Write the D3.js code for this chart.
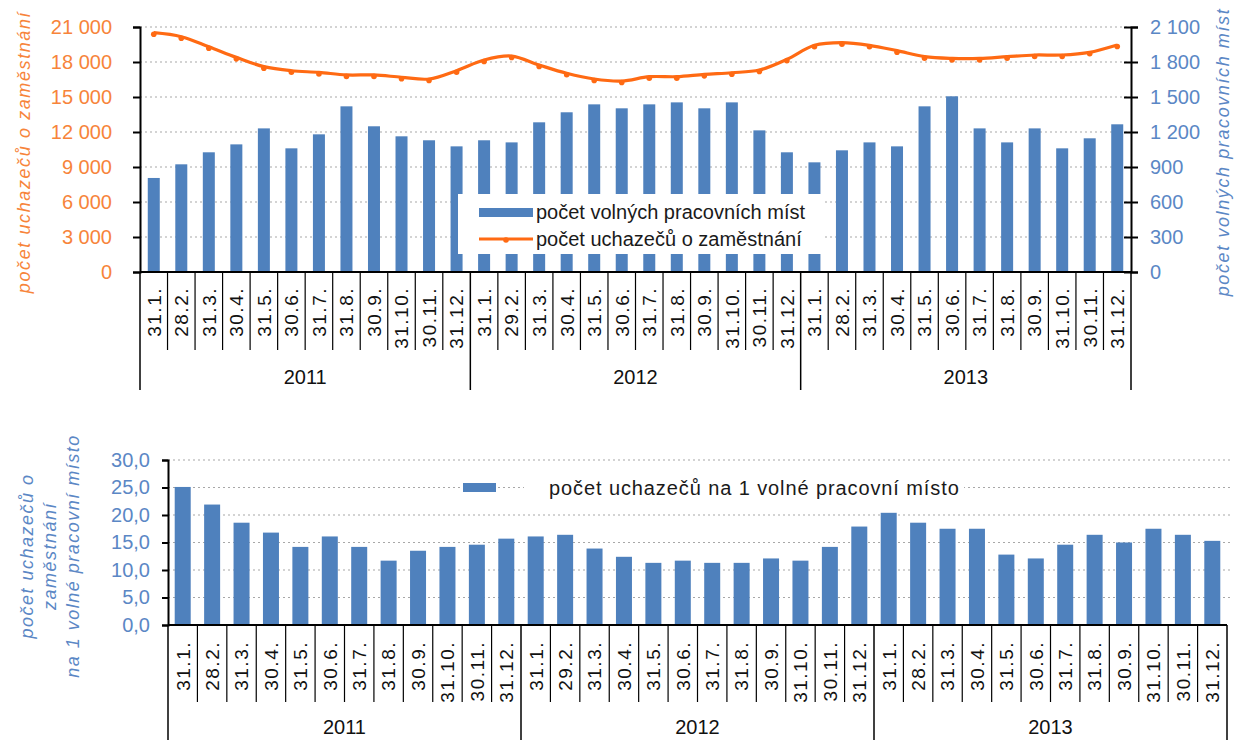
<!DOCTYPE html>
<html>
<head>
<meta charset="utf-8">
<script src="https://cdn.jsdelivr.net/npm/d3@7"></script>
<style>
 body{margin:0;background:#fff}
 svg{display:block;font-family:"Liberation Sans",Arial,sans-serif}
</style>
</head>
<body>
<svg id="chart" width="1237" height="740"></svg>
<script>
// data
var months2011=["31.1.","28.2.","31.3.","30.4.","31.5.","30.6.","31.7.","31.8.","30.9.","31.10.","30.11.","31.12."];
var months2012=["31.1.","29.2.","31.3.","30.4.","31.5.","30.6.","31.7.","31.8.","30.9.","31.10.","30.11.","31.12."];
var months2013=["31.1.","28.2.","31.3.","30.4.","31.5.","30.6.","31.7.","31.8.","30.9.","31.10.","30.11.","31.12."];
var years=["2011","2012","2013"];
var vacancies=[806,923,1026,1094,1231,1060,1180,1420,1249,1163,1129,1077,
 1129,1111,1283,1369,1437,1403,1437,1454,1403,1454,1214,1026,
 940,1043,1111,1077,1420,1506,1231,1111,1231,1060,1146,1266];
var applicants=[20510,20170,19310,18400,17600,17250,17110,16890,16890,16690,16540,17250,
 18170,18510,17740,17030,16540,16370,16740,16740,16940,17080,17310,18230,
 19430,19660,19430,18970,18460,18310,18310,18460,18600,18600,18830,19460];
var ratio=[25.1,21.9,18.6,16.8,14.2,16.1,14.2,11.7,13.5,14.2,14.6,15.7,
 16.1,16.4,13.9,12.4,11.3,11.7,11.3,11.3,12.1,11.7,14.2,17.9,
 20.4,18.6,17.5,17.5,12.8,12.1,14.6,16.4,15.0,17.5,16.4,15.3];
var leftTicks=[0,3000,6000,9000,12000,15000,18000,21000];
var rightTicks=[0,300,600,900,1200,1500,1800,2100];
var ratioTicks=[0,5,10,15,20,25,30];

var cats=months2011.concat(months2012,months2013);
var idx=d3.range(cats.length);

var cz=d3.formatLocale({decimal:",",thousands:" ",grouping:[3],currency:["",""]});
var fmtInt=cz.format(",d"), fmt1=cz.format(".1f");

var BLUE="#4F81BD", ORANGE="#FF6A13", ORANGE_T="#F7843A", BLUE_T="#5B87C5", GRID="#A8A8A8";

var svg=d3.select("#chart");

function xAxisBlock(g,x,y0,sepEnd,labTop,yearY,bottom){
 var bw=x.step();
 g.append("line").attr("x1",x.range()[0]).attr("x2",x.range()[1]).attr("y1",y0).attr("y2",y0)
  .attr("stroke","#000").attr("stroke-width",2);
 idx.forEach(function(i){
  var xs=x(i);
  var isYear=i%12===0;
  g.append("line").attr("x1",xs).attr("x2",xs).attr("y1",y0).attr("y2",isYear?bottom:sepEnd)
   .attr("stroke","#000").attr("stroke-width",isYear?1.5:1.2);
  g.append("text").attr("transform","translate("+(xs+bw/2)+","+labTop+") rotate(-90)")
   .attr("text-anchor","end").attr("dy","0.36em").attr("font-size",19).attr("letter-spacing",1.5)
   .attr("fill","#111").text(cats[i]);
 });
 var xe=x.range()[1];
 g.append("line").attr("x1",xe).attr("x2",xe).attr("y1",y0).attr("y2",bottom).attr("stroke","#000").attr("stroke-width",1.5);
 years.forEach(function(yr,k){
  g.append("text").attr("x",x(k*12)+bw*6).attr("y",yearY).attr("text-anchor","middle")
   .attr("dy","0.35em").attr("font-size",20).attr("fill","#111").text(yr);
 });
}

// ---------- top chart
var topG=svg.append("g");
var xT=d3.scaleBand().domain(idx).range([140,1131]);
var yL=d3.scaleLinear().domain([0,21000]).range([272,27]);
var yR=d3.scaleLinear().domain([0,2100]).range([272,27]);

topG.append("g").selectAll("line").data(leftTicks.slice(1)).join("line")
 .attr("x1",140).attr("x2",1128).attr("y1",function(d){return yL(d);}).attr("y2",function(d){return yL(d);})
 .attr("stroke",GRID).attr("stroke-dasharray","2,3").attr("stroke-width",1.2);

topG.append("g").selectAll("rect").data(idx).join("rect")
 .attr("x",function(i){return xT(i)+xT.bandwidth()/2-6;}).attr("width",12)
 .attr("y",function(i){return yR(vacancies[i]);}).attr("height",function(i){return 272-yR(vacancies[i]);})
 .attr("fill",BLUE);

var line=d3.line().x(function(i){return xT(i)+xT.bandwidth()/2;}).y(function(i){return yL(applicants[i]);})
 .curve(d3.curveCatmullRom);
topG.append("path").datum(idx).attr("d",line).attr("fill","none").attr("stroke",ORANGE).attr("stroke-width",3.2);
topG.append("g").selectAll("circle").data(idx).join("circle")
 .attr("cx",function(i){return xT(i)+xT.bandwidth()/2;}).attr("cy",function(i){return yL(applicants[i])+1.5;})
 .attr("r",2.8).attr("fill",ORANGE);

var axL=topG.append("g").attr("transform","translate(140,0)")
 .call(d3.axisLeft(yL).tickValues(leftTicks).tickFormat(fmtInt).tickSize(7).tickPadding(21));
axL.select(".domain").attr("stroke","#000").attr("stroke-width",2);
axL.selectAll(".tick line").attr("stroke","#000").attr("stroke-width",2);
axL.selectAll("text").attr("font-size",20).attr("fill",ORANGE_T).attr("font-family",null);

var axR=topG.append("g").attr("transform","translate(1131,0)")
 .call(d3.axisRight(yR).tickValues(rightTicks).tickFormat(fmtInt).tickSize(7).tickPadding(12));
axR.select(".domain").attr("stroke","#000").attr("stroke-width",2);
axR.selectAll(".tick line").attr("stroke","#000").attr("stroke-width",2).attr("x1",-7);
axR.selectAll("text").attr("font-size",20).attr("fill",BLUE_T).attr("font-family",null);

xAxisBlock(topG.append("g"),xT,272,350,287,377,390);

topG.append("text").attr("transform","translate(24,152) rotate(-90)").attr("text-anchor","middle")
 .attr("dy","0.35em").attr("font-size",18).attr("font-style","italic").attr("letter-spacing",1.6)
 .attr("fill",ORANGE_T).text("počet uchazečů o zaměstnání");
topG.append("text").attr("transform","translate(1223,152) rotate(-90)").attr("text-anchor","middle")
 .attr("dy","0.35em").attr("font-size",18).attr("font-style","italic").attr("letter-spacing",1.6)
 .attr("fill",BLUE_T).text("počet volných pracovních míst");

// legend
var lg=topG.append("g");
lg.append("rect").attr("x",458).attr("y",194).attr("width",365).attr("height",60).attr("fill","#fff");
lg.append("rect").attr("x",479).attr("y",208).attr("width",54).attr("height",9).attr("fill",BLUE);
lg.append("text").attr("x",536).attr("y",212).attr("dy","0.35em").attr("font-size",20).attr("fill","#1a1a1a").text("počet volných pracovních míst");
lg.append("line").attr("x1",479).attr("x2",533).attr("y1",239).attr("y2",239).attr("stroke",ORANGE).attr("stroke-width",3.2);
lg.append("circle").attr("cx",506).attr("cy",240).attr("r",2.8).attr("fill",ORANGE);
lg.append("text").attr("x",536).attr("y",239).attr("dy","0.35em").attr("font-size",20).attr("fill","#1a1a1a").text("počet uchazečů o zaměstnání");

// ---------- bottom chart
var botG=svg.append("g");
var xB=d3.scaleBand().domain(idx).range([168,1227]);
var yB=d3.scaleLinear().domain([0,30]).range([625,460]);

botG.append("g").selectAll("line").data(ratioTicks.slice(1)).join("line")
 .attr("x1",168).attr("x2",1230).attr("y1",function(d){return yB(d);}).attr("y2",function(d){return yB(d);})
 .attr("stroke",GRID).attr("stroke-dasharray","2,3").attr("stroke-width",1.2);

botG.append("rect").attr("x",524).attr("y",474).attr("width",440).attr("height",28).attr("fill","#fff");

botG.append("g").selectAll("rect").data(idx).join("rect")
 .attr("x",function(i){return xB(i)+xB.bandwidth()/2-8;}).attr("width",16)
 .attr("y",function(i){return yB(ratio[i]);}).attr("height",function(i){return 625-yB(ratio[i]);})
 .attr("fill",BLUE);

var axB=botG.append("g").attr("transform","translate(168,0)")
 .call(d3.axisLeft(yB).tickValues(ratioTicks).tickFormat(fmt1).tickSize(6).tickPadding(12));
axB.select(".domain").attr("stroke","#000").attr("stroke-width",2);
axB.selectAll(".tick line").attr("stroke","#000").attr("stroke-width",2);
axB.selectAll("text").attr("font-size",20).attr("fill",BLUE_T).attr("font-family",null);

xAxisBlock(botG.append("g"),xB,625,702,641,727,740);

var tl=["počet uchazečů o","zaměstnání","na 1 volné pracovní místo"];
tl.forEach(function(t,k){
 botG.append("text").attr("transform","translate("+(27+k*23)+",556) rotate(-90)").attr("text-anchor","middle")
  .attr("dy","0.35em").attr("font-size",18).attr("font-style","italic").attr("letter-spacing",1.5)
  .attr("fill",BLUE_T).text(t);
});

botG.append("rect").attr("x",463).attr("y",483).attr("width",33).attr("height",9).attr("fill",BLUE);
botG.append("text").attr("x",549).attr("y",488).attr("dy","0.35em").attr("font-size",20).attr("letter-spacing",0.9)
 .attr("fill","#1a1a1a").text("počet uchazečů na 1 volné pracovní místo");
</script>
</body>
</html>
